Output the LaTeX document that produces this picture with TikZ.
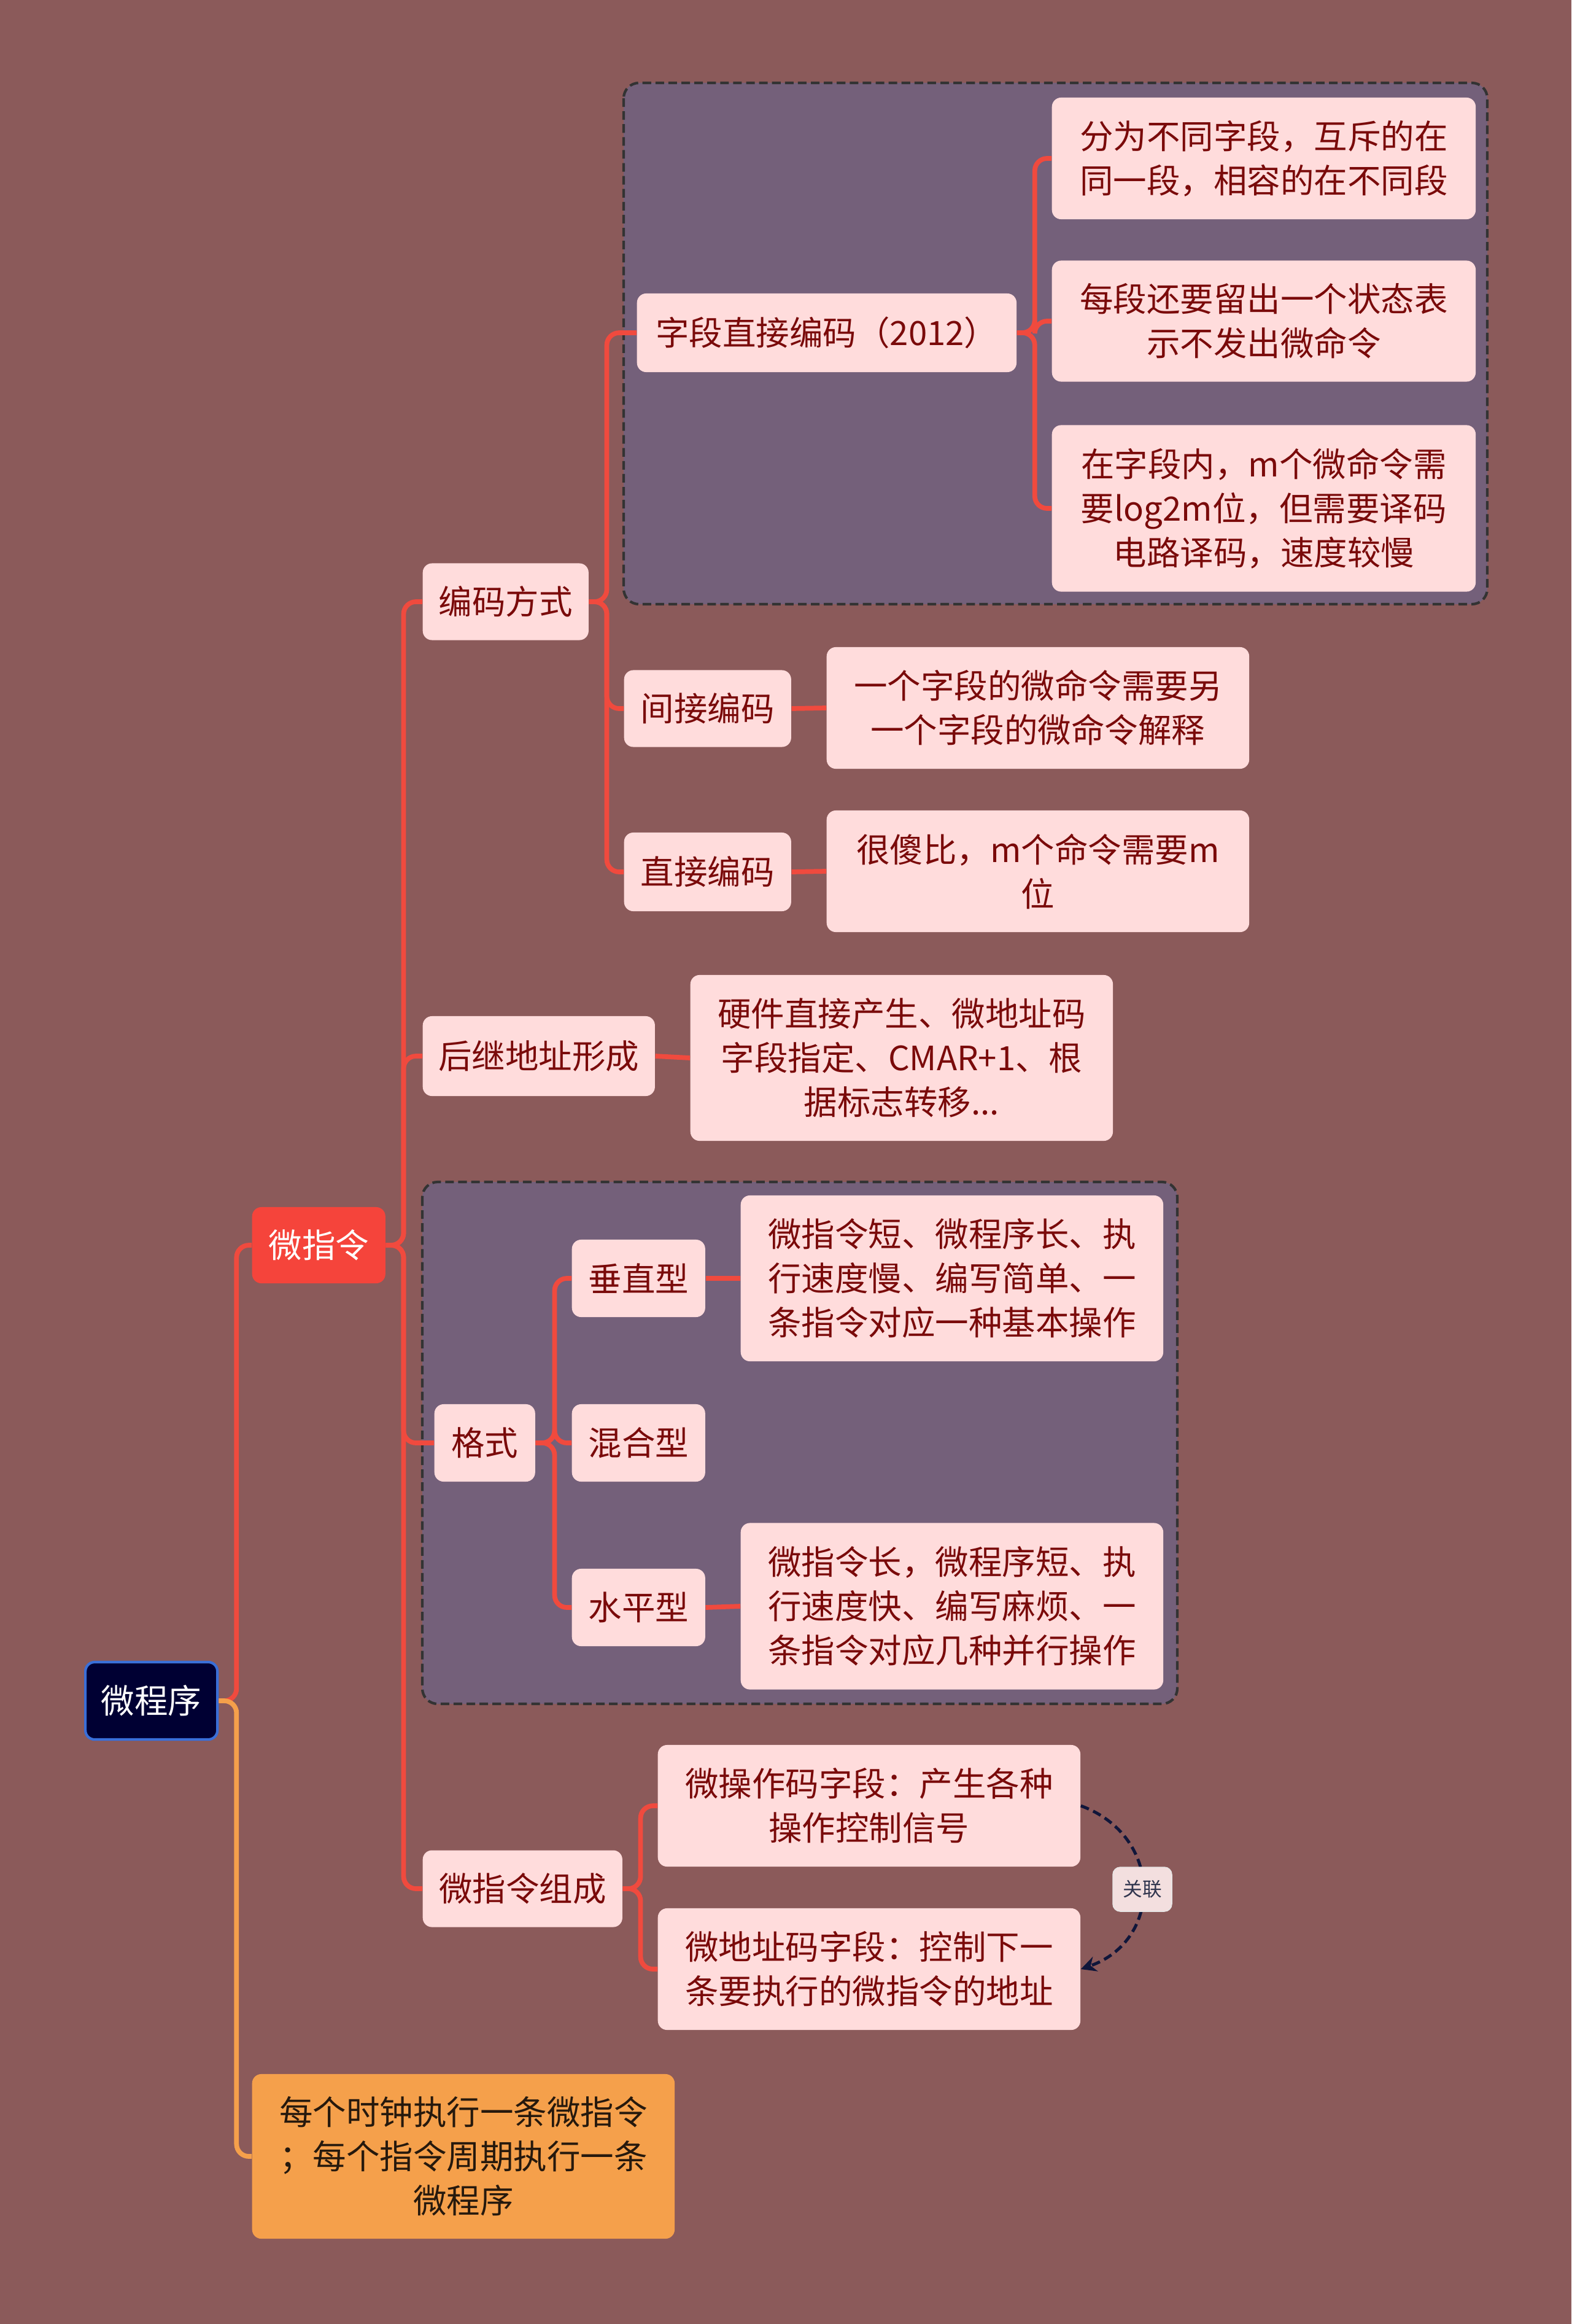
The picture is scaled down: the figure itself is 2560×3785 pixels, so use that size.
\documentclass[tikz,border=0pt]{standalone}
\usepackage{fontspec}
\setmainfont{Noto Sans CJK SC}
\usepackage{xcolor}
\usetikzlibrary{positioning,arrows.meta}

\definecolor{bgcol}{HTML}{8B5A5A}
\definecolor{groupcol}{HTML}{74607A}
\definecolor{pinkcol}{HTML}{FFDCDC}
\definecolor{darkred}{HTML}{7A0A0A}
\definecolor{redcol}{HTML}{F5443B}
\definecolor{orangecol}{HTML}{F5A04B}
\definecolor{navycol}{HTML}{000033}
\definecolor{bluecol}{HTML}{3A6FD8}
\definecolor{linkcol}{HTML}{F04A3E}
\definecolor{relcol}{HTML}{10163A}
\definecolor{bordercol}{HTML}{333333}

\tikzset{
  base/.style={anchor=west, rounded corners=0.15cm, inner sep=0pt, align=center,
    font=\fontsize{15.5pt}{20.5pt}\selectfont},
  topic/.style={base, fill=pinkcol, text=darkred},
  mainbox/.style={base, fill=redcol, text=white},
  rootbox/.style={base, fill=navycol, draw=bluecol, line width=1.2pt, text=white},
  notebox/.style={base, fill=orangecol, text=black!80!brown},
  group/.style={draw=bordercol, dash pattern=on 4pt off 2pt, line width=1.2pt,
    fill=groupcol, rounded corners=0.25cm},
  link/.style={draw=linkcol, line width=2.2pt, rounded corners=0.2cm},
  rel/.style={draw=relcol, dash pattern=on 4pt off 2.2pt, line width=1.4pt,
    -{Stealth[length=0.25cm,width=0.25cm]}},
  rellabel/.style={fill=black!8!pinkcol!60!white, draw=white!90!black, rounded corners=0.12cm,
    text=relcol!70!gray, minimum width=0.96cm, minimum height=0.72cm,
    font=\fontsize{9pt}{11pt}\selectfont}
}

\begin{document}
\begin{tikzpicture}[x=0.01cm,y=-0.01cm]
    % Background
    \fill[bgcol] (0,0) rectangle (2560,3785);
    \useasboundingbox (0,0) rectangle (2560,3785);

    % Dashed groups
    \draw[group] (1016,135) rectangle (2423,984);
    \draw[group] (688,1925) rectangle (1918,2775);

    % Root and first level
    \node[rootbox, minimum width=2.15cm, minimum height=1.26cm] (root) at (137,2770) {微程序};
    \node[mainbox, minimum width=2.17cm, minimum height=1.24cm] (wzl) at (410,2028) {微指令};
    \node[notebox, minimum width=6.88cm, minimum height=2.68cm] (note) at (410,3512)
        {每个时钟执行一条微指令\\；每个指令周期执行一条\\微程序};

    % Second level
    \node[topic, minimum width=2.70cm, minimum height=1.25cm] (bmfs) at (688,980) {编码方式};
    \node[topic, minimum width=3.78cm, minimum height=1.30cm] (hjdz) at (688,1720) {后继地址形成};
    \node[topic, minimum width=1.64cm, minimum height=1.26cm] (geshi) at (707,2350) {格式};
    \node[topic, minimum width=3.25cm, minimum height=1.25cm] (zucheng) at (688,3076) {微指令组成};

    % Encoding
    \node[topic, minimum width=6.18cm, minimum height=1.28cm] (zdzj) at (1037,542) {字段直接编码（2012）};
    \node[topic, minimum width=2.72cm, minimum height=1.25cm] (jjbm) at (1016,1154) {间接编码};
    \node[topic, minimum width=2.72cm, minimum height=1.28cm] (zjbm) at (1016,1420) {直接编码};
    \node[topic, minimum width=6.90cm, minimum height=1.98cm] (zd1) at (1713,258)
        {分为不同字段，互斥的在\\同一段，相容的在不同段};
    \node[topic, minimum width=6.90cm, minimum height=1.97cm] (zd2) at (1713,523)
        {每段还要留出一个状态表\\示不发出微命令};
    \node[topic, minimum width=6.90cm, minimum height=2.71cm] (zd3) at (1713,828)
        {在字段内，m个微命令需\\要log2m位，但需要译码\\电路译码，速度较慢};
    \node[topic, minimum width=6.88cm, minimum height=1.98cm] (jjtxt) at (1346,1153)
        {一个字段的微命令需要另\\一个字段的微命令解释};
    \node[topic, minimum width=6.88cm, minimum height=1.98cm] (zjtxt) at (1346,1419)
        {很傻比，m个命令需要m\\位};
    \node[topic, minimum width=6.88cm, minimum height=2.70cm] (hjtxt) at (1124,1723)
        {硬件直接产生、微地址码\\字段指定、CMAR+1、根\\据标志转移...};

    % Format
    \node[topic, minimum width=2.17cm, minimum height=1.26cm] (chuizhi) at (931,2082) {垂直型};
    \node[topic, minimum width=2.17cm, minimum height=1.26cm] (hunhe) at (931,2350) {混合型};
    \node[topic, minimum width=2.17cm, minimum height=1.26cm] (shuiping) at (931,2618) {水平型};
    \node[topic, minimum width=6.88cm, minimum height=2.70cm] (cztxt) at (1206,2082)
        {微指令短、微程序长、执\\行速度慢、编写简单、一\\条指令对应一种基本操作};
    \node[topic, minimum width=6.88cm, minimum height=2.71cm] (sptxt) at (1206,2616)
        {微指令长，微程序短、执\\行速度快、编写麻烦、一\\条指令对应几种并行操作};

    % Composition
    \node[topic, minimum width=6.88cm, minimum height=1.98cm] (wczd) at (1071,2941)
        {微操作码字段：产生各种\\操作控制信号};
    \node[topic, minimum width=6.88cm, minimum height=1.98cm] (wdzd) at (1071,3207)
        {微地址码字段：控制下一\\条要执行的微指令的地址};

    % Connectors
    \draw[link] (root.east) -- ++(29,0) |- (wzl.west);
    \draw[link, draw=orangecol] (root.east) -- ++(29,0) |- (note.west);
    \foreach \c in {bmfs,hjdz,geshi,zucheng}
        \draw[link] (wzl.east) -- ++(29,0) |- (\c.west);
    \foreach \c in {zdzj,jjbm,zjbm}
        \draw[link] (bmfs.east) -- ++(29,0) |- (\c.west);
    \foreach \c in {zd1,zd2,zd3}
        \draw[link] (zdzj.east) -- ++(29,0) |- (\c.west);
    \draw[link] (jjbm.east) -- (jjtxt.west);
    \draw[link] (zjbm.east) -- (zjtxt.west);
    \draw[link] (hjdz.east) -- (hjtxt.west);
    \foreach \c in {chuizhi,hunhe,shuiping}
        \draw[link] (geshi.east) -- ++(31,0) |- (\c.west);
    \draw[link] (chuizhi.east) -- (cztxt.west);
    \draw[link] (shuiping.east) -- (sptxt.west);
    \foreach \c in {wczd,wdzd}
        \draw[link] (zucheng.east) -- ++(29,0) |- (\c.west);

    % Relation
    \draw[rel] (wczd.east) .. controls (1895,2990) and (1895,3160) .. (wdzd.east);
    \node[rellabel] (guanlian) at (1861,3077) {关联};
\end{tikzpicture}
\end{document}
